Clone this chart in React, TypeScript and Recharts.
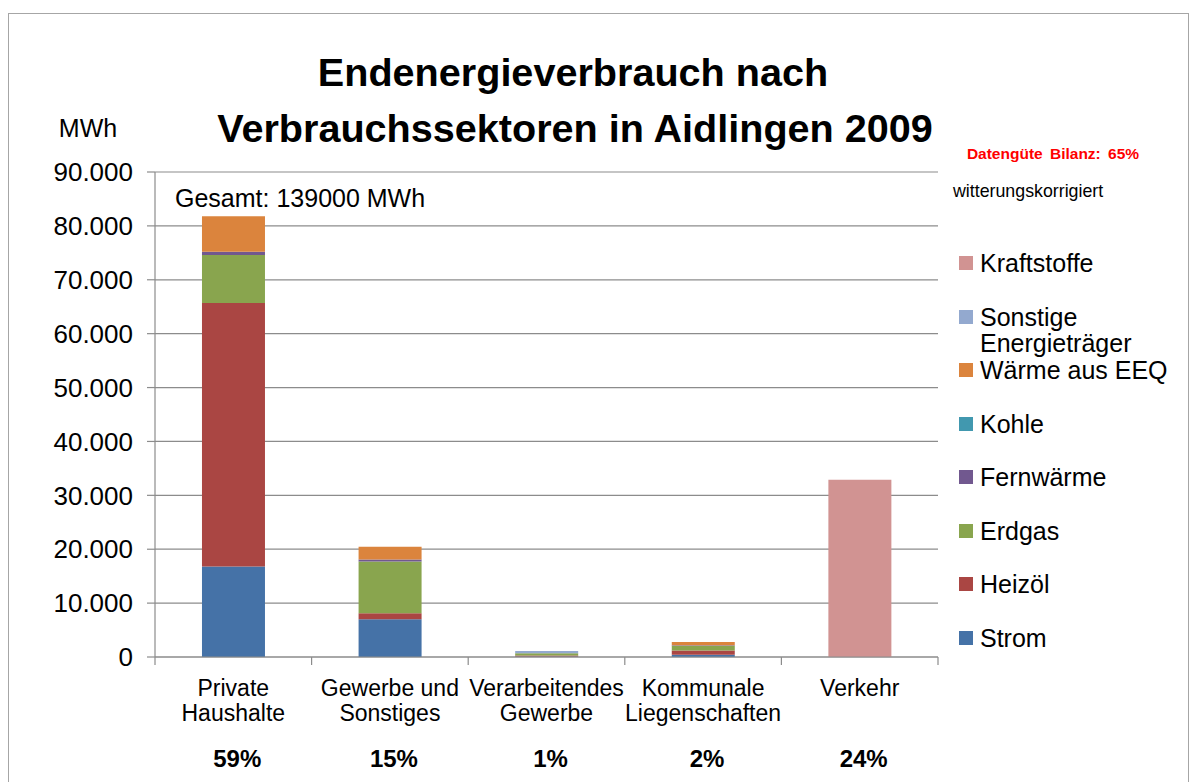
import { BarChart, Bar, XAxis, YAxis, CartesianGrid } from 'recharts';

const categories = ['Private Haushalte', 'Gewerbe und Sonstiges', 'Verarbeitendes Gewerbe', 'Kommunale Liegenschaften', 'Verkehr'];
const categoryLines = [['Private', 'Haushalte'], ['Gewerbe und', 'Sonstiges'], ['Verarbeitendes', 'Gewerbe'], ['Kommunale', 'Liegenschaften'], ['Verkehr']];
const shares = ['59%', '15%', '1%', '2%', '24%'];

const strom = [16800, 7000, 100, 400, 0];
const heizoel = [48900, 1100, 200, 800, 0];
const erdgas = [8900, 9600, 400, 900, 0];
const fernwaerme = [600, 400, 0, 100, 0];
const kohle = [0, 0, 0, 0, 0];
const waermeEEQ = [6600, 2350, 0, 600, 0];
const sonstige = [0, 0, 400, 0, 0];
const kraftstoffe = [0, 0, 0, 0, 32900];

const yTicks = [0, 10000, 20000, 30000, 40000, 50000, 60000, 70000, 80000, 90000];

const series = [
  { key: 'strom', name: 'Strom', color: '#4572A7', values: strom },
  { key: 'heizoel', name: 'Heizöl', color: '#AA4643', values: heizoel },
  { key: 'erdgas', name: 'Erdgas', color: '#89A54E', values: erdgas },
  { key: 'fernwaerme', name: 'Fernwärme', color: '#71588F', values: fernwaerme },
  { key: 'kohle', name: 'Kohle', color: '#4198AF', values: kohle },
  { key: 'waermeEEQ', name: 'Wärme aus EEQ', color: '#DB843D', values: waermeEEQ },
  { key: 'sonstige', name: 'Sonstige Energieträger', color: '#93A9CF', values: sonstige },
  { key: 'kraftstoffe', name: 'Kraftstoffe', color: '#D19392', values: kraftstoffe },
];

const data = categories.map((name, i) => {
  const row: Record<string, any> = { name };
  series.forEach((s) => {
    row[s.key] = s.values[i];
  });
  return row;
});

const FONT = '"Liberation Sans", Arial, sans-serif';
const GRID = '#8c8c8c';

const formatDe = (v: number) => String(v).replace(/\B(?=(\d{3})+(?!\d))/g, '.');

// category labels + boundary tick marks (half a band left/right of the tick)
function CategoryTick(props: any) {
  const { x, y, payload } = props;
  const i = categories.indexOf(payload.value);
  const lines = categoryLines[i] || [payload.value];
  const half = payload.offset || 0;
  return (
    <g>
      <line x1={x - half} x2={x - half} y1={y} y2={y + 8} stroke={GRID} strokeWidth={1.2} />
      {i === categories.length - 1 && (
        <line x1={x + half} x2={x + half} y1={y} y2={y + 8} stroke={GRID} strokeWidth={1.2} />
      )}
      {lines.map((l, j) => (
        <text key={j} x={x} y={y + 39 + j * 25} textAnchor="middle" fontSize={23} fontFamily={FONT} fill="#000">
          {l}
        </text>
      ))}
      <text x={x + 4} y={y + 110} textAnchor="middle" fontSize={24} fontWeight="bold" fontFamily={FONT} fill="#000">
        {shares[i]}
      </text>
    </g>
  );
}

function LegendBox() {
  const items = [...series].reverse();
  return (
    <div style={{ position: 'absolute', left: 955, top: 236, fontFamily: FONT, color: '#000' }}>
      {items.map((s) => (
        <div key={s.key} style={{ position: 'relative', height: 53.5, width: 240 }}>
          <div style={{ position: 'absolute', left: 4, top: 20, width: 14, height: 14, background: s.color }} />
          <div style={{ position: 'absolute', left: 25, top: 14, width: 205, fontSize: 25, lineHeight: '26px' }}>
            {s.name}
          </div>
        </div>
      ))}
    </div>
  );
}

const centered = (x: number, y: number): React.CSSProperties => ({
  position: 'absolute',
  left: x,
  top: y,
  transform: 'translate(-50%, -50%)',
  whiteSpace: 'nowrap',
  fontFamily: FONT,
});

export default function App() {
  return (
    <div style={{ position: 'absolute', left: 0, top: 0, width: 1198, height: 782, overflow: 'hidden', background: '#fff' }}>
      <div style={{ position: 'absolute', left: 8, top: 13, width: 1179, height: 820, border: '1.5px solid #a6a6a6' }} />
      <div style={{ position: 'absolute', left: 0, top: 0 }}>
        <BarChart
          width={1198}
          height={782}
          data={data}
          margin={{ top: 172, right: 260, left: 0, bottom: 0 }}
          barCategoryGap="30%"
        >
          <CartesianGrid vertical={false} stroke={GRID} strokeWidth={1.2} />
          <XAxis
            dataKey="name"
            tick={<CategoryTick />}
            tickLine={false}
            tickSize={0}
            tickMargin={0}
            axisLine={{ stroke: GRID, strokeWidth: 1.2 }}
            interval={0}
            height={125}
          />
          <YAxis
            width={155}
            domain={[0, 90000]}
            ticks={yTicks}
            tickFormatter={formatDe}
            tick={{ fill: '#000', fontSize: 26, fontFamily: FONT }}
            tickSize={8}
            tickMargin={14}
            tickLine={{ stroke: GRID, strokeWidth: 1.2 }}
            axisLine={{ stroke: GRID, strokeWidth: 1.2 }}
          />
          {series.map((s) => (
            <Bar key={s.key} dataKey={s.key} name={s.name} stackId="a" fill={s.color} isAnimationActive={false} />
          ))}
        </BarChart>
      </div>
      <LegendBox />
      <div style={{ ...centered(573, 72), fontSize: 39.6, fontWeight: 'bold' }}>Endenergieverbrauch nach</div>
      <div style={{ ...centered(575, 128), fontSize: 39.6, fontWeight: 'bold' }}>Verbrauchssektoren in Aidlingen 2009</div>
      <div style={{ ...centered(88, 128), fontSize: 25 }}>MWh</div>
      <div style={{ position: 'absolute', left: 175, top: 198, transform: 'translateY(-50%)', fontFamily: FONT, fontSize: 25, whiteSpace: 'nowrap' }}>
        Gesamt: 139000 MWh
      </div>
      <div style={{ ...centered(1053, 154), fontSize: 15.5, fontWeight: 'bold', color: '#ff0000', wordSpacing: 3 }}>Datengüte Bilanz: 65%</div>
      <div style={{ position: 'absolute', left: 953, top: 191, transform: 'translateY(-50%)', fontFamily: FONT, fontSize: 17.8, whiteSpace: 'nowrap' }}>
        witterungskorrigiert
      </div>
    </div>
  );
}
